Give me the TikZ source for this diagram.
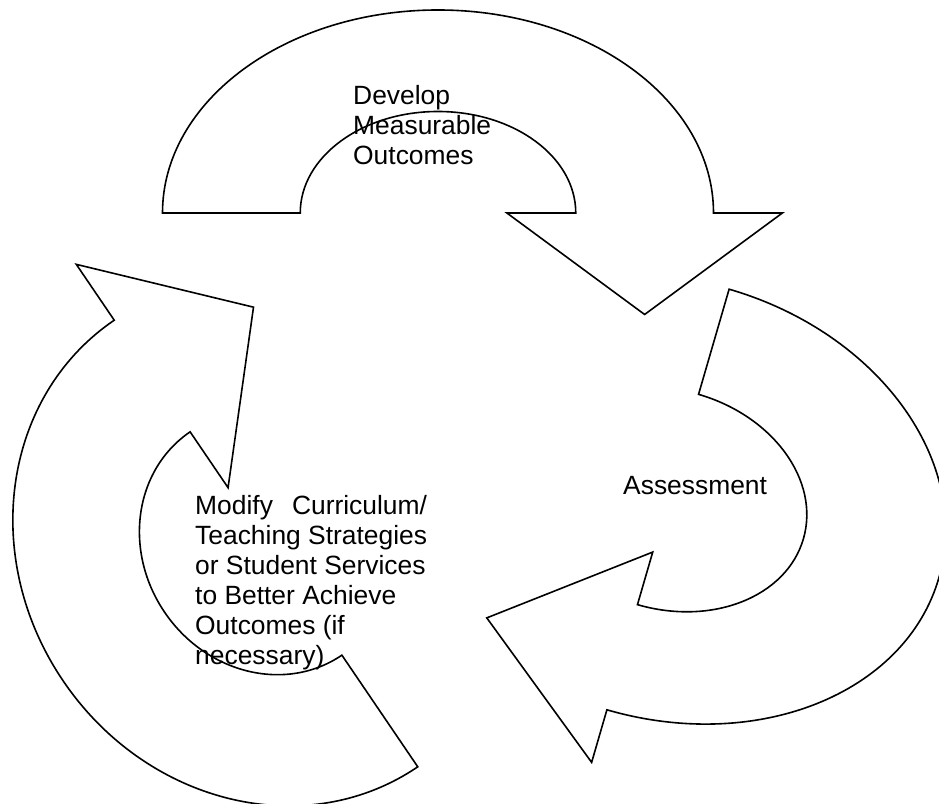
\documentclass[tikz,border=0pt]{standalone}
\usepackage{fontspec}
\setmainfont{Liberation Sans}
\tikzset{
  blockarrow/.style={draw, line width=1.6pt, line join=miter},
  cyclelabel/.style={anchor=north west, inner sep=0pt, align=left,
    font=\fontsize{26.4}{30}\selectfont}
}
% one curled block arrow: centre, rotation, half span, bulge
\newcommand\cyclearrow[4]{%
  \pgfmathsetmacro\halfspan{#3}%
  \pgfmathsetmacro\bulge{#4}%
  \draw[blockarrow, shift={#1}, rotate=#2]
    (0,\halfspan) arc[start angle=90, end angle=-90, x radius=\bulge, y radius=\halfspan]
    -- (0,-1.25*\halfspan) -- (-\bulge/2,-0.75*\halfspan) -- (0,-0.25*\halfspan)
    -- (0,-\halfspan/2)
    arc[start angle=-90, end angle=90, x radius=\bulge/2, y radius=\halfspan/2]
    -- cycle;}
\begin{document}
\begin{tikzpicture}[x=1pt, y=1pt]
\useasboundingbox (0,0) rectangle (939,803);
\cyclearrow{(438,590)}{90}{275.5}{203}
\cyclearrow{(668,303.5)}{-16.2}{219}{282}
\cyclearrow{(266,259.5)}{-145.8}{270}{245}
\node[cyclelabel] (develop) at (353,718) {Develop\\Measurable\\Outcomes};
\node[cyclelabel] (assess)  at (623,327) {Assessment};
\node[cyclelabel] (modify)  at (195,308) {Modify\ \ \,Curriculum/\\Teaching Strategies\\or Student Services\\to Better Achieve\\Outcomes (if\\necessary)};
\end{tikzpicture}
\end{document}
